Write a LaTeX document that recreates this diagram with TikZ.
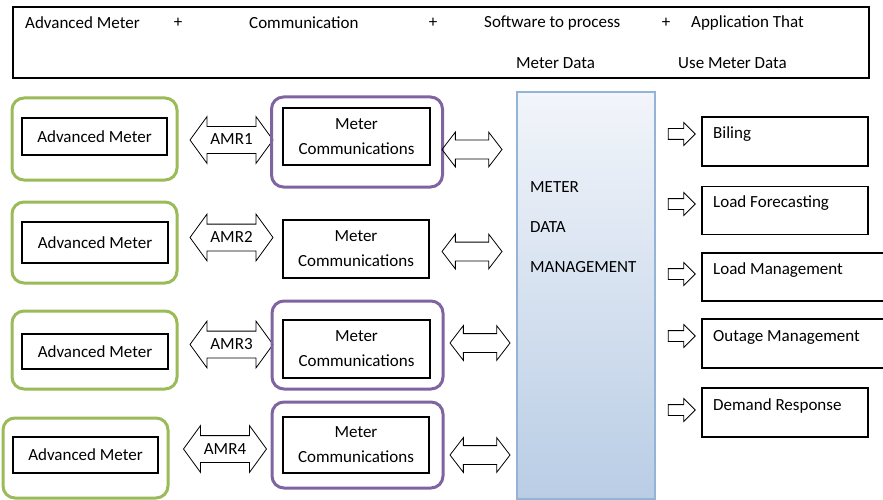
\documentclass[tikz,border=0pt]{standalone}
\usepackage{fontspec}
\setmainfont{Carlito}
\usetikzlibrary{shapes.arrows}
\definecolor{grn}{HTML}{9BBB59}
\definecolor{prp}{HTML}{8064A2}
\definecolor{mdmb}{HTML}{95B3D7}
\definecolor{mdmtop}{HTML}{F2F5FA}
\definecolor{mdmbot}{HTML}{B9CDE5}
\begin{document}
\begin{tikzpicture}[x=1pt,y=-1pt,
  every node/.style={font=\fontsize{17}{25}\selectfont},
  gbox/.style={draw=grn,line width=3,rounded corners=12,minimum width=165,inner sep=0},
  pbox/.style={draw=prp,line width=3,rounded corners=12,minimum width=171,inner sep=0},
  ibox/.style={draw,line width=1.1,inner sep=0,align=center},
  amr/.style={double arrow,draw,line width=0.8,inner sep=0,text height=18,text depth=8,minimum height=83,double arrow head extend=10,double arrow tip angle=108},
  link/.style={double arrow,draw,line width=0.8,inner sep=0,text height=9,text depth=9,minimum height=60,double arrow head extend=8,double arrow tip angle=105},
  outarr/.style={single arrow,draw,line width=0.8,inner sep=0,text height=5,text depth=5,minimum height=27,single arrow head extend=6,single arrow tip angle=90},
  app/.style={draw,line width=1.1,minimum height=48,inner sep=0},
  lab/.style={anchor=west,inner sep=0}
]
\useasboundingbox (0,0) rectangle (883,500);
\clip (0,0) rectangle (883,500);
\fill[white] (0,0) rectangle (883,500);
% header
\node[draw,line width=1.1,minimum width=856,minimum height=71,inner sep=0] (hdr) at (441,42.5) {};
\node[lab] (h1) at (25,23) {Advanced Meter};
\node[inner sep=0] (p1t) at (178,23) {+};
\node[lab] (h2) at (249,23) {Communication};
\node[inner sep=0] (p2t) at (433,23) {+};
\node[lab] (h3) at (484,23) {Software to process};
\node[inner sep=0] (p3t) at (666,23) {+};
\node[lab] (h4) at (691,23) {Application That};
\node[lab] (h5) at (516,63) {Meter Data};
\node[lab] (h6) at (678,63) {Use Meter Data};
% row 1
\node[gbox,minimum height=82] (g1) at (94.5,139) {};
\node[ibox,minimum width=145,minimum height=37] (a1) at (94.5,136.5) {Advanced Meter};
\node[amr] (amr1) at (231.5,140) {AMR1};
\node[pbox,minimum height=90] (pp1) at (357,142) {};
\node[ibox,minimum width=147,minimum height=57] (m1) at (356.5,136.5) {Meter\\Communications};
\node[link] (r1) at (472,149.5) {};
% row 2
\node[gbox,minimum height=81] (g2) at (94.5,242.5) {};
\node[ibox,minimum width=146,minimum height=41] (a2) at (95,242.5) {Advanced Meter};
\node[amr] (amr2) at (231.5,237.5) {AMR2};
\node[ibox,minimum width=146,minimum height=58] (m2) at (356,249) {Meter\\Communications};
\node[link] (r2) at (472,251.5) {};
% row 3
\node[gbox,minimum height=78] (g3) at (94.5,350) {};
\node[ibox,minimum width=146,minimum height=35] (a3) at (95,351.5) {Advanced Meter};
\node[amr] (amr3) at (231.5,344.5) {AMR3};
\node[pbox,minimum height=88] (pp3) at (357.5,345) {};
\node[ibox,minimum width=147,minimum height=58] (m3) at (356.5,349) {Meter\\Communications};
\node[link] (r3) at (480,343) {};
% row 4
\node[gbox,minimum height=80] (g4) at (85.5,458) {};
\node[ibox,minimum width=145,minimum height=36] (a4) at (85.5,455) {Advanced Meter};
\node[amr] (amr4) at (225,449) {AMR4};
\node[pbox,minimum height=86] (pp4) at (357.5,445) {};
\node[ibox,minimum width=146,minimum height=56] (m4) at (356,445) {Meter\\Communications};
\node[link] (r4) at (480,455) {};
% MDM
\node[draw=mdmb,line width=1.5,top color=mdmtop,bottom color=mdmbot,minimum width=138,minimum height=407,inner sep=0] (mdm) at (586,295.5) {};
\node[lab] (mt1) at (530,187) {METER};
\node[lab] (mt2) at (530,227) {DATA};
\node[lab] (mt3) at (530,267) {MANAGEMENT};
% applications
\node[app,minimum width=166,minimum height=49] (b1) at (785,141.5) {};
\node[lab] (t1) at (713,134) {Biling};
\node[app,minimum width=166] (b2) at (785,210.5) {};
\node[lab] (t2) at (713,203) {Load Forecasting};
\node[app,minimum width=198] (b3) at (801,277) {};
\node[lab] (t3) at (713,270) {Load Management};
\node[app,minimum width=198,minimum height=49] (b4) at (801,343.5) {};
\node[lab] (t4) at (713,337) {Outage Management};
\node[app,minimum width=166,minimum height=49] (b5) at (785,412.5) {};
\node[lab] (t5) at (713,406) {Demand Response};
\node[outarr] (o1) at (679,134) {};
\node[outarr] (o2) at (679,204) {};
\node[outarr] (o3) at (679,274) {};
\node[outarr] (o4) at (679,336) {};
\node[outarr] (o5) at (679,410) {};
\end{tikzpicture}
\end{document}
